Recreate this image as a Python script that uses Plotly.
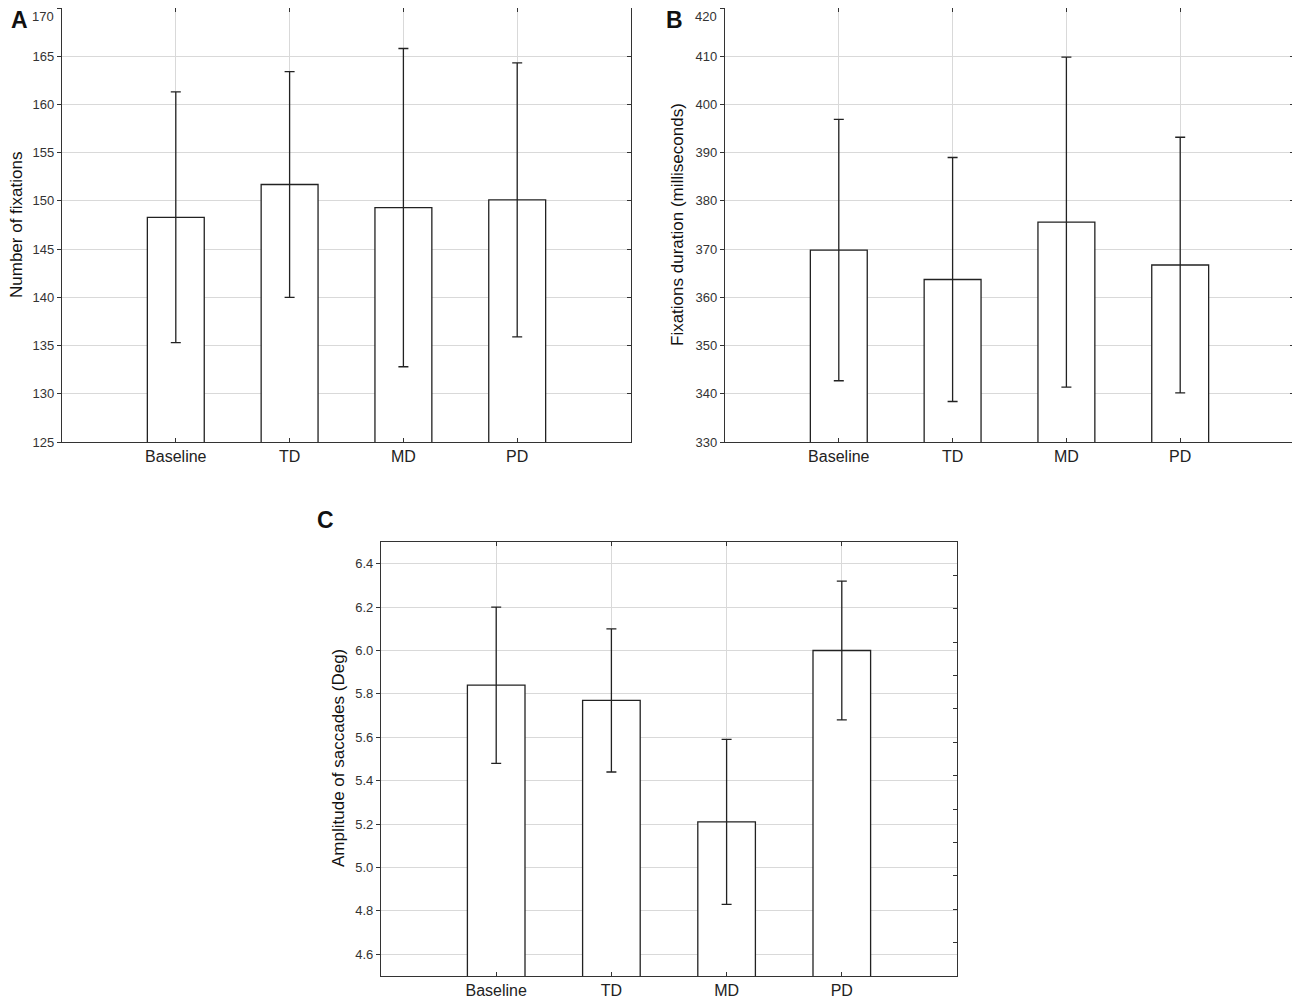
import plotly.graph_objects as go

# values
categories = ["Baseline", "TD", "MD", "PD"]

fix_count_mean = [148.3, 151.7, 149.3, 150.1]
fix_count_err = [13.0, 11.7, 16.5, 14.2]

fix_dur_mean = [369.8, 363.7, 375.6, 366.7]
fix_dur_err = [27.1, 25.3, 34.2, 26.5]

sacc_amp_mean = [5.84, 5.77, 5.21, 6.00]
sacc_amp_err = [0.36, 0.33, 0.38, 0.32]

# top tick labels of A and B sit on the page edge, drawn as annotations
top_labels = ["170", "420"]

# the page body keeps its default 8px margin, so the figure is drawn 8px in
PAGE_W, PAGE_H = 1300, 1002
OFF = 8
W, H = PAGE_W - OFF, PAGE_H - OFF
FONT = "Liberation Sans, Arial, sans-serif"
AXIS_COLOR = "#333333"
GRID_COLOR = "#d9d9d9"


def px_x(a, b):
    return [(a - OFF) / W, (b - OFF) / W]


def px_y(top, bottom):
    return [1 - (bottom - OFF) / H, 1 - (top - OFF) / H]


def add_bars(fig, means, errs, xa, ya):
    fig.add_trace(
        go.Bar(
            x=categories,
            y=means,
            width=0.5,
            marker=dict(color="white", line=dict(color="#222222", width=1.3)),
            error_y=dict(type="data", array=errs, color="#222222", thickness=1.3, width=5),
            xaxis=xa,
            yaxis=ya,
            showlegend=False,
            hoverinfo="skip",
        )
    )


def dummy(fig, xa, ya, yval):
    # invisible point so the right-hand tick axis gets drawn
    fig.add_trace(
        go.Scatter(
            x=categories[:1], y=[yval], mode="markers", marker=dict(opacity=0),
            xaxis=xa, yaxis=ya, showlegend=False, hoverinfo="skip",
        )
    )


fig = go.Figure()
add_bars(fig, fix_count_mean, fix_count_err, "x", "y")
add_bars(fig, fix_dur_mean, fix_dur_err, "x2", "y2")
add_bars(fig, sacc_amp_mean, sacc_amp_err, "x3", "y3")
dummy(fig, "x", "y4", 150)
dummy(fig, "x2", "y5", 370)
dummy(fig, "x3", "y6", 5)


def xaxis_cfg(domain, anchor):
    return dict(
        domain=domain, anchor=anchor, type="category", range=[-1, 4],
        showline=True, linecolor=AXIS_COLOR, linewidth=1.3, mirror="ticks",
        ticks="inside", ticklen=4, tickcolor=AXIS_COLOR,
        showgrid=True, gridcolor=GRID_COLOR, gridwidth=1, zeroline=False,
        tickfont=dict(family=FONT, size=16, color="#222222"),
        automargin=False, fixedrange=True,
    )


def yaxis_cfg(domain, anchor, rng, dtick, tick0, fmt=None):
    d = dict(
        domain=domain, anchor=anchor, range=rng, dtick=dtick, tick0=tick0,
        showline=True, linecolor=AXIS_COLOR, linewidth=1.3, mirror=True,
        ticks="outside", ticklen=4, tickcolor=AXIS_COLOR,
        showgrid=True, gridcolor=GRID_COLOR, gridwidth=1, zeroline=False,
        tickfont=dict(family=FONT, size=13, color="#333333"),
        automargin=False, fixedrange=True,
    )
    if fmt:
        d["tickformat"] = fmt
    return d


def right_ticks(overlay, anchor, rng, dtick):
    return dict(
        overlaying=overlay, anchor=anchor, side="right", range=rng, dtick=dtick,
        tick0=rng[0], ticks="inside", ticklen=4, tickcolor=AXIS_COLOR,
        showticklabels=False, showgrid=False, zeroline=False, showline=False,
        automargin=False, fixedrange=True,
    )


fig.update_layout(
    width=W,
    height=H,
    margin=dict(l=0, r=0, t=0, b=0, autoexpand=False),
    paper_bgcolor="white",
    plot_bgcolor="white",
    bargap=0.5,
    xaxis=xaxis_cfg(px_x(62, 631), "y"),
    yaxis=yaxis_cfg(px_y(8, 442), "x", [125, 170], 5, 125),
    xaxis2=xaxis_cfg(px_x(725, 1294), "y2"),
    yaxis2=yaxis_cfg(px_y(8, 442), "x2", [330, 420], 10, 330),
    xaxis3=xaxis_cfg(px_x(381, 957), "y3"),
    yaxis3=yaxis_cfg(px_y(542, 976), "x3", [4.5, 6.5], 0.2, 4.6, ".1f"),
    yaxis4=right_ticks("y", "x", [125, 170], 5),
    yaxis5=right_ticks("y2", "x2", [330, 420], 10),
    yaxis6=right_ticks("y3", "x3", [0, 13], 1),
)

labels = [
    ("Number of fixations", 17, 225, -90, 17, "normal"),
    ("Fixations duration (milliseconds)", 678, 225, -90, 17, "normal"),
    ("Amplitude of saccades (Deg)", 338, 758, -90, 17, "normal"),
    ("A", 19, 20, 0, 23, "bold"),
    ("B", 674, 20, 0, 23, "bold"),
    ("C", 325, 520, 0, 23, "bold"),
]
for text, x, y, angle, size, weight in labels:
    fig.add_annotation(
        text=text, x=(x - OFF) / W, y=1 - (y - OFF) / H, xref="paper", yref="paper",
        showarrow=False, textangle=angle, xanchor="center", yanchor="middle",
        font=dict(family=FONT, size=size, color="#111111", weight=weight),
    )

for text, right_edge in zip(top_labels, [55, 718]):
    fig.add_annotation(
        text=text, x=(right_edge - OFF) / W, y=1, xref="paper", yref="paper",
        showarrow=False, xanchor="right", yanchor="top", borderpad=0,
        font=dict(family=FONT, size=13, color="#333333"),
    )

fig.write_html("out.html")
